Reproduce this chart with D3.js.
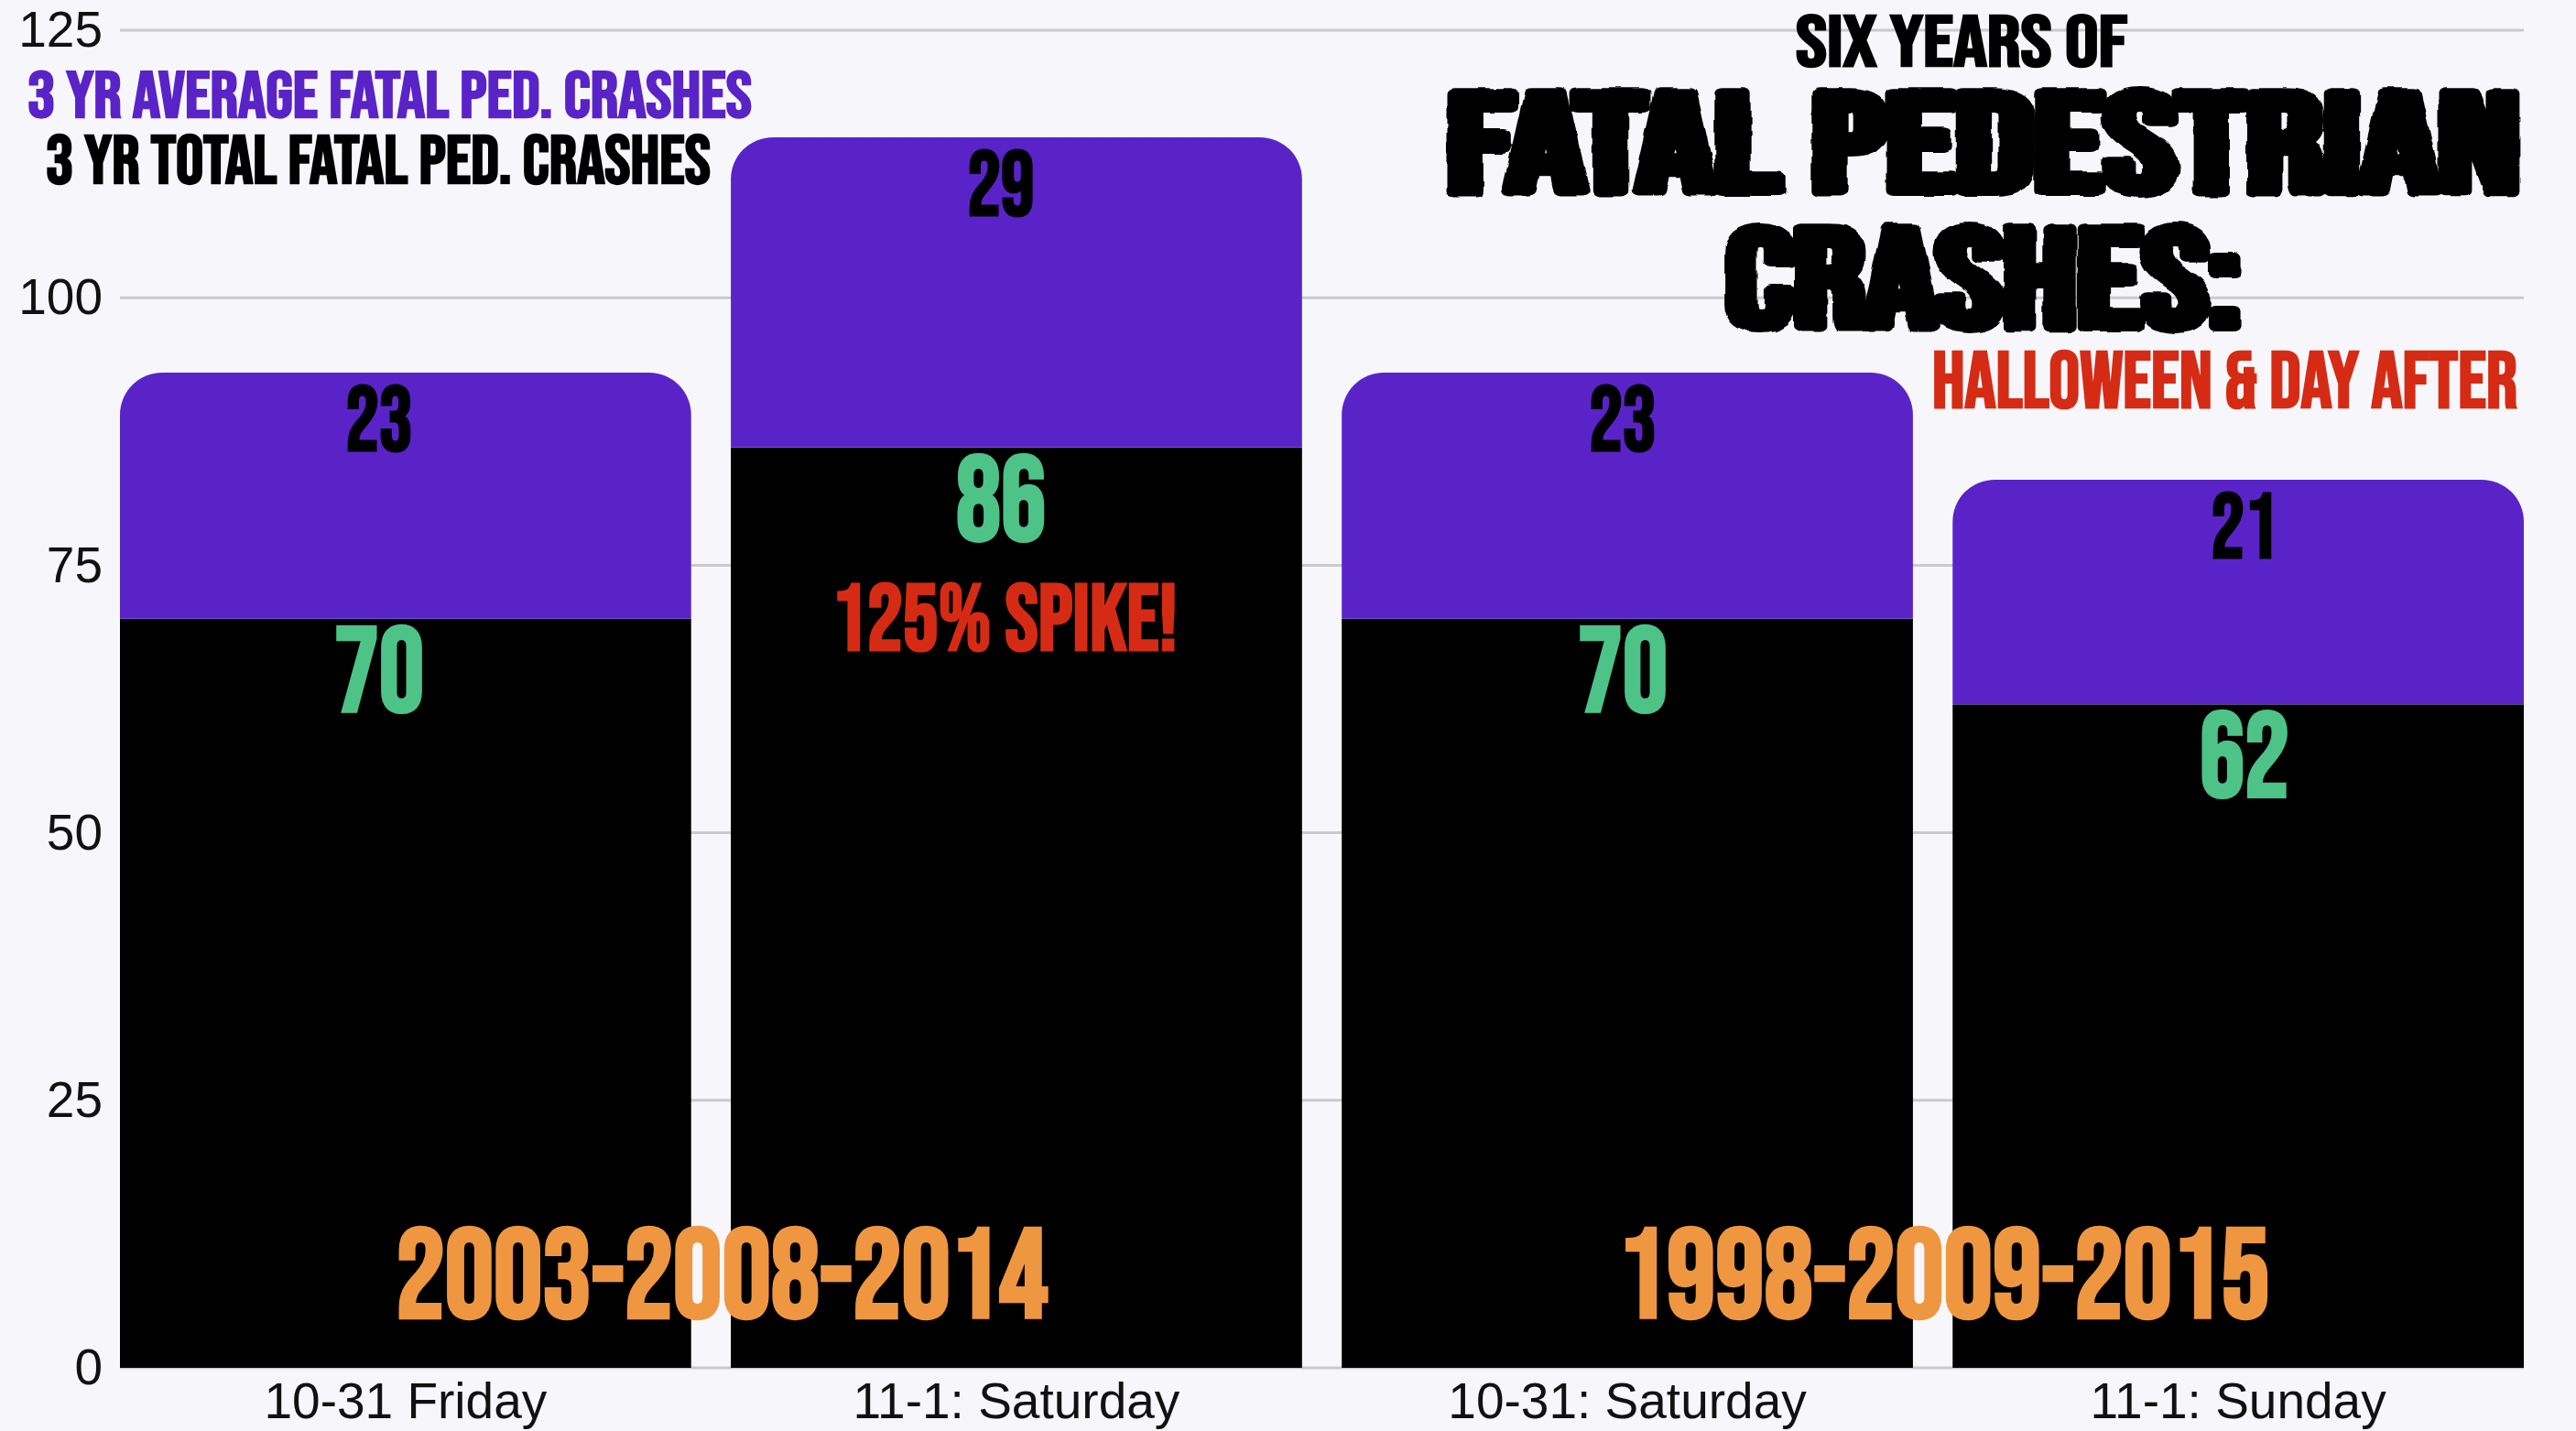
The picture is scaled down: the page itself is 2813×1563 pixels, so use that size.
<!DOCTYPE html>
<html><head><meta charset="utf-8">
<script src="https://cdn.jsdelivr.net/npm/d3@7"></script>
<style>
html,body{margin:0;padding:0;background:#f7f7fb;}
svg{display:block;}
</style>
</head><body>
<svg id="chart"></svg>
<script>
// ---------- data ----------
const categories = ["10-31 Friday", "11-1: Saturday", "10-31: Saturday", "11-1: Sunday"];
const totals = [70, 86, 70, 62];          // 3 yr total fatal ped. crashes (black)
const averages = [23, 29, 23, 21];        // 3 yr average fatal ped. crashes (purple)
const yTicks = [0, 25, 50, 75, 100, 125];
const yearSpans = ["2003-2008-2014", "1998-2009-2015"];
const legendLabels = ["3 YR AVERAGE FATAL PED. CRASHES", "3 YR TOTAL FATAL PED. CRASHES"];
const titleLines = ["SIX YEARS OF", "FATAL PEDESTRIAN", "CRASHES:", "HALLOWEEN & DAY AFTER"];
const spikeNote = "125% SPIKE!";

// ---------- setup ----------
const W = 2813, H = 1563;
const COL = {bg:"#f7f7fb", purple:"#5a23c8", black:"#000000", green:"#4dc387",
             red:"#d52b14", orange:"#ef9641", grid:"#c9c9ce", text:"#111111"};
const COND = "'Bebas Neue','Liberation Sans Narrow','Arial Narrow','DejaVu Sans Condensed',sans-serif";
const SANS = "'Liberation Sans',Arial,sans-serif";

const svg = d3.select("#chart").attr("width", W).attr("height", H)
  .attr("viewBox", `0 0 ${W} ${H}`);
svg.append("rect").attr("width", W).attr("height", H).attr("fill", COL.bg);

const defs = svg.append("defs");
const f = defs.append("filter").attr("id","spooky").attr("filterUnits","userSpaceOnUse")
  .attr("x",0).attr("y",0).attr("width",W).attr("height",H);
f.append("feTurbulence").attr("type","fractalNoise").attr("baseFrequency","0.04").attr("numOctaves",2).attr("seed",4).attr("result","n");
f.append("feDisplacementMap").attr("in","SourceGraphic").attr("in2","n").attr("scale",6).attr("xChannelSelector","R").attr("yChannelSelector","G");

const x = d3.scaleBand().domain(categories).range([131, 2756]).paddingInner(0.065).paddingOuter(0);
const y = d3.scaleLinear().domain([0, 125]).range([1494, 33]);
const labelX = d3.scalePoint().domain(categories).range([414, 2451]);

const rows = categories.map((c, i) => ({cat: c, total: totals[i], average: averages[i]}));
const stacked = d3.stack().keys(["total", "average"])(rows);

// ---------- gridlines ----------
svg.append("g").selectAll("line").data(yTicks).join("line")
  .attr("x1", x.range()[0]).attr("x2", x.range()[1])
  .attr("y1", d => y(d)).attr("y2", d => y(d))
  .attr("stroke", COL.grid).attr("stroke-width", 3);

// ---------- axes ----------
const yAxis = svg.append("g").attr("transform", `translate(${x.range()[0]},0)`)
  .call(d3.axisLeft(y).tickValues(yTicks).tickSize(0).tickPadding(19));
yAxis.select(".domain").remove();
yAxis.selectAll("text").attr("font-family", SANS).attr("font-size", 55).attr("fill", COL.text);

const xAxis = svg.append("g").attr("transform", `translate(0,${y(0)})`)
  .call(d3.axisBottom(x).tickSize(0).tickPadding(16));
xAxis.select(".domain").remove();
xAxis.selectAll("text").attr("font-family", SANS).attr("font-size", 55).attr("fill", COL.text);

// ---------- bars ----------
function roundTop(x0, y0, w, h, r) {
  r = Math.min(r, h, w / 2);
  return `M${x0},${y0 + h}V${y0 + r}A${r},${r} 0 0 1 ${x0 + r},${y0}H${x0 + w - r}A${r},${r} 0 0 1 ${x0 + w},${y0 + r}V${y0 + h}Z`;
}
const layerColors = {total: COL.black, average: COL.purple};
stacked.forEach(layer => {
  const g = svg.append("g");
  if (layer.key === "average") {
    g.selectAll("path").data(layer).join("path")
      .attr("d", d => roundTop(x(d.data.cat), y(d[1]), x.bandwidth(), y(d[0]) - y(d[1]), 46))
      .attr("fill", layerColors[layer.key]);
  } else {
    g.selectAll("rect").data(layer).join("rect")
      .attr("x", d => x(d.data.cat)).attr("y", d => y(d[1]))
      .attr("width", x.bandwidth()).attr("height", d => y(d[0]) - y(d[1]))
      .attr("fill", layerColors[layer.key]);
  }
});

// ---------- value labels ----------
function condText(g, txt, cx, by, fs, len, fill, anchor) {
  return g.append("text").text(txt).attr("x", cx).attr("y", by)
    .attr("font-family", COND).attr("font-weight", 700).attr("font-size", fs)
    .attr("text-anchor", anchor || "middle").attr("fill", fill)
    .attr("textLength", len).attr("lengthAdjust", "spacingAndGlyphs");
}
const lab = svg.append("g");
stacked[1].forEach(d => {
  const t = String(d.data.average);
  condText(lab, t, labelX(d.data.cat), y(d[1]) + 85, 100, t.length * 36.5, COL.black);
});
stacked[0].forEach(d => {
  const t = String(d.data.total);
  condText(lab, t, labelX(d.data.cat), y(d[1]) + 101, 131, t.length * 49, COL.green);
});

// spike annotation on the 11-1 Saturday bar
condText(lab, spikeNote, labelX(categories[1]) + 4, y(totals[1]) + 221, 102, 378, COL.red);

// year-span labels straddling pairs of bars
yearSpans.forEach((s, i) => {
  const left = categories[i * 2], right = categories[i * 2 + 1];
  const cx = (x(left) + x.bandwidth() + x(right)) / 2 + 12;
  condText(lab, s, cx, 1439, 138, 712, COL.orange);
});

// ---------- legend ----------
condText(svg, legendLabels[0], 30, 128, 72, 791, COL.purple, "start");
condText(svg, legendLabels[1], 50, 200, 74, 726, COL.black, "start");

// ---------- title ----------
condText(svg, titleLines[0], 1961, 72, 78, 362, COL.black, "start");
const spooky = svg.append("g").attr("filter", "url(#spooky)");
condText(spooky, titleLines[1], 1580, 208, 152, 1172, COL.black, "start")
  .attr("stroke", COL.black).attr("stroke-width", 7).attr("stroke-linejoin", "round");
condText(spooky, titleLines[2], 1884, 356, 152, 564, COL.black, "start")
  .attr("stroke", COL.black).attr("stroke-width", 7).attr("stroke-linejoin", "round");
condText(svg, titleLines[3], 2110, 445, 87, 639, COL.red, "start");
</script>
</body></html>
